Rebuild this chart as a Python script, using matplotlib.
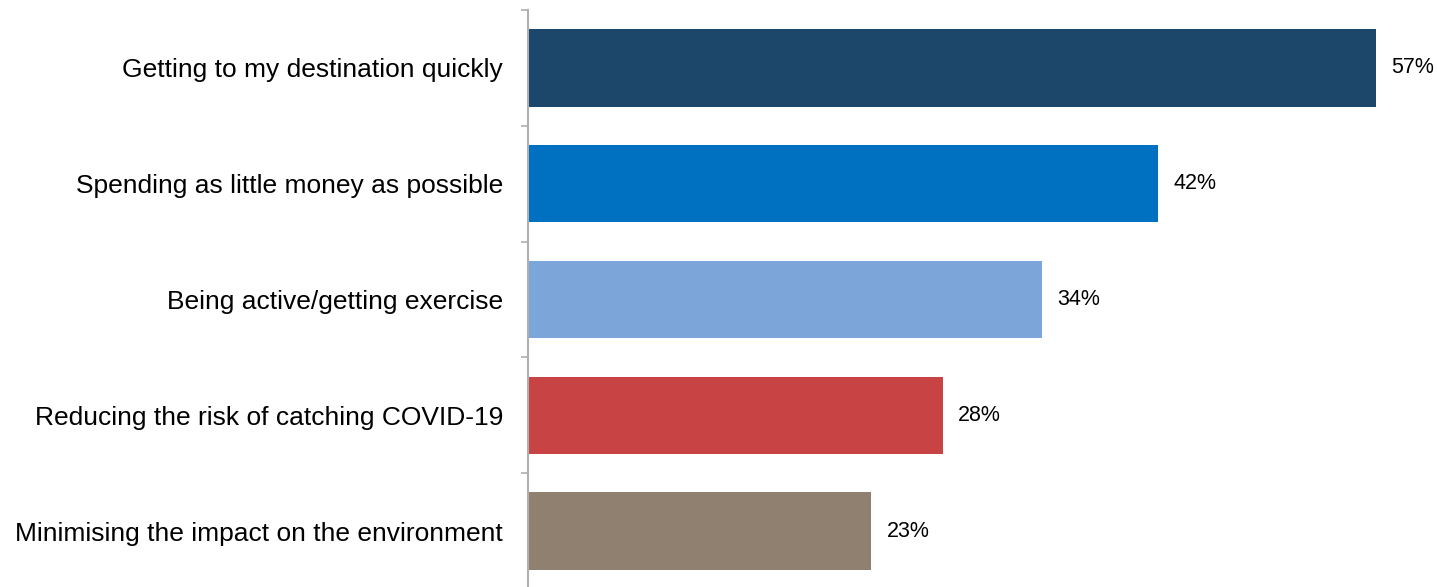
import matplotlib
matplotlib.use("Agg")
import matplotlib.pyplot as plt
import numpy as np

categories = ["Getting to my destination quickly",
              "Spending as little money as possible",
              "Being active/getting exercise",
              "Reducing the risk of catching COVID-19",
              "Minimising the impact on the environment"]
values = [57.0, 42.4, 34.6, 27.9, 23.1]
value_labels = ["57%", "42%", "34%", "28%", "23%"]
colors = ["#1D466B", "#0070C0", "#7CA5DA", "#C84444", "#8F8070"]

plt.rcParams['font.family'] = ['Liberation Sans', 'DejaVu Sans']

W, H = 1437, 587
fig = plt.figure(figsize=(W / 100, H / 100), dpi=100)
ax_left = 527.5 / W
ax_right = 1420.3 / W
ax_top = 1 - 10 / H
ax_bottom = 1 - 589 / H
ax = fig.add_axes([ax_left, ax_bottom, ax_right - ax_left, ax_top - ax_bottom])

n = len(categories)
y = np.arange(n)
ax.barh(y, values, height=0.67, color=colors)
ax.set_ylim(n - 0.5, -0.5)
ax.set_xlim(0, 60)

for yi, v, lab in zip(y, values, value_labels):
    ax.annotate(lab, (v, yi), xytext=(11, 0), textcoords="offset points",
                va="center", ha="left", fontsize=15.5, color="#000000")

ax.set_yticks(y)
ax.set_yticklabels(categories, fontsize=19)
ax.set_yticks(np.arange(n + 1) - 0.5, minor=True)
ax.tick_params(axis="y", which="major", length=0, pad=17.5)
ax.tick_params(axis="y", which="minor", length=5, color="#AFAFAF", width=1.2)
ax.set_xticks([])
for s in ["top", "right", "bottom"]:
    ax.spines[s].set_visible(False)
ax.spines["left"].set_color("#AFAFAF")
ax.spines["left"].set_linewidth(1.5)

fig.savefig("out.png", dpi=100)
